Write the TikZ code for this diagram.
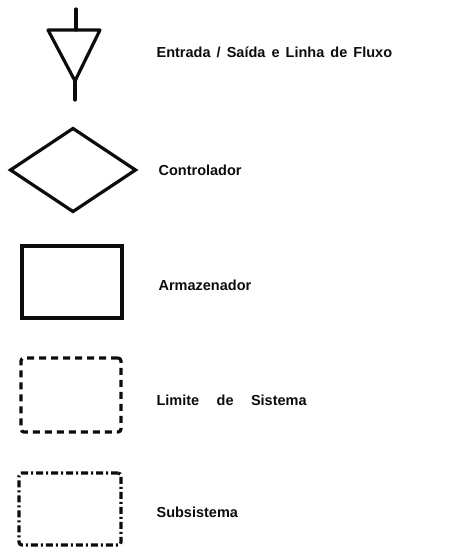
\documentclass[tikz,border=0pt]{standalone}
\usepackage{fontspec}
\setmainfont{Liberation Sans}
\usetikzlibrary{shapes.geometric}
\definecolor{inkdark}{RGB}{12,12,12}

\begin{document}
\begin{tikzpicture}[x=1pt,y=-1pt,line width=3.2pt,draw=inkdark,
  symbolbox/.style={draw,inner sep=0pt,outer sep=0pt},
  legendtext/.style={anchor=west,inner sep=0pt,text=inkdark,font=\fontsize{14.5}{16}\selectfont\bfseries}]
\useasboundingbox (0,0) rectangle (460,548);
% flow symbol
\coordinate (tri-l) at (48,30);
\coordinate (tri-r) at (100,30);
\coordinate (tri-m) at (76,30);
\coordinate (tri-a) at (75,81);
\coordinate (stem-t) at (76,9);
\coordinate (stem-b) at (75,100);
\draw[line join=round] (tri-l) -- (tri-r) -- (tri-a) -- cycle;
\draw[line cap=round] (tri-m) -- (stem-t);
\draw[line cap=round] (tri-a) -- (stem-b);
% boxes
\node[symbolbox,diamond,minimum width=125,minimum height=83] (ctrl) at (73,170) {};
\node[symbolbox,minimum width=100,minimum height=72] (store) at (72,282) {};
\node[symbolbox,rounded corners=3pt,dash pattern=on 7pt off 5pt,minimum width=100,minimum height=74] (limit) at (71,395) {};
\node[symbolbox,rounded corners=3pt,dash pattern=on 7pt off 3pt on 2pt off 3pt,minimum width=102,minimum height=72] (subsys) at (70,509) {};
% labels
\node[legendtext] (flow-t) at (155,52) {\spaceskip=0.42em\relax Entrada / Saída e Linha de Fluxo};
\node[legendtext] (ctrl-t) at (157,170) {Controlador};
\node[legendtext] (store-t) at (157,285) {Armazenador};
\node[legendtext] (limit-t) at (155,400) {\spaceskip=1.2em\relax Limite de Sistema};
\node[legendtext] (subsys-t) at (155,512) {Subsistema};
\end{tikzpicture}
\end{document}
